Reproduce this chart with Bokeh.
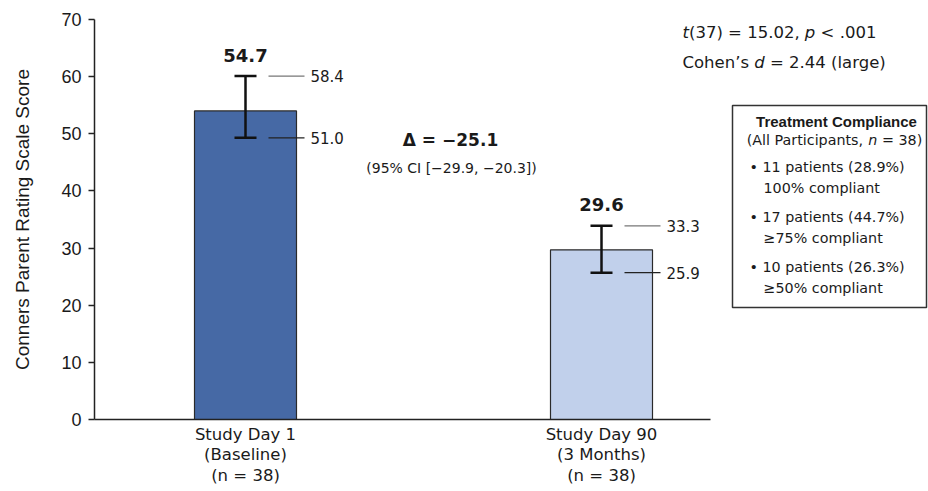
from bokeh.plotting import figure
from bokeh.models import Label, FixedTicker, Range1d, ColumnDataSource
from bokeh.core.properties import value
from bokeh.embed import file_html
from bokeh.resources import INLINE

# ---------------- data ----------------
categories = ["Study Day 1", "Study Day 90"]
subtitles = ["(Baseline)", "(3 Months)"]
group_n = ["38", "38"]
bar_means = [54.0, 29.7]
whisker_low = [49.3, 25.7]
whisker_high = [60.1, 33.9]
mean_labels = ["54.7", "29.6"]
upper_labels = ["58.4", "33.3"]
lower_labels = ["51.0", "25.9"]
bar_colors = ["#4669a5", "#c1d0eb"]
y_ticks = [0, 10, 20, 30, 40, 50, 60, 70]
delta_label = "\u0394 = \u221225.1"
ci_label = "(95% CI [\u221229.9, \u221220.3])"
compliance_patients = ["11", "17", "10"]
compliance_pct = ["28.9%", "44.7%", "26.3%"]
compliance_level = ["100%", "\u226575%", "\u226550%"]

# ---------------- layout helpers (picture px -> data) ----------------
W, H = 928, 491
FRAME_LEFT_PX = 94
FRAME_TOP_PX = 19
FRAME_ZERO_PX = 419
PX_PER_X = 356.0
PX_PER_Y = 400.0 / 70.0
X_START = -(245 - FRAME_LEFT_PX) / PX_PER_X
X_END = X_START + (W - FRAME_LEFT_PX) / PX_PER_X


def dx(px):
    return X_START + (px - FRAME_LEFT_PX) / PX_PER_X


def dy(py):
    return (FRAME_ZERO_PX - py) / PX_PER_Y


def ddx(px):
    return px / PX_PER_X


def ddy(py):
    return py / PX_PER_Y


ANN_FONT = "DejaVu Sans"
INK = "#1a1a1a"

p = figure(width=W, height=H, output_backend="svg", toolbar_location=None,
           x_range=Range1d(X_START, X_END), y_range=Range1d(0, 70),
           min_border_left=FRAME_LEFT_PX, min_border_top=FRAME_TOP_PX,
           min_border_bottom=H - FRAME_ZERO_PX, min_border_right=0)
p.outline_line_color = None
p.xgrid.grid_line_color = None
p.ygrid.grid_line_color = None
p.background_fill_color = "white"
p.border_fill_color = "white"

# y axis
ax = p.yaxis[0]
ax.ticker = FixedTicker(ticks=y_ticks)
ax.axis_label = "Conners Parent Rating Scale Score"
ax.axis_label_text_font = "Liberation Sans"
ax.axis_label_text_font_size = "19px"
ax.axis_label_text_font_style = "normal"
ax.axis_label_text_color = INK
ax.axis_label_standoff = 25
ax.major_label_text_font = "Liberation Sans"
ax.major_label_text_font_size = "18px"
ax.major_label_text_color = INK
ax.major_label_standoff = 7
ax.major_tick_out = 6
ax.major_tick_in = 0
ax.minor_tick_line_color = None
ax.axis_line_width = 1.5
ax.axis_line_color = "#222222"
ax.major_tick_line_width = 1.5
ax.major_tick_line_color = "#222222"

xs = [0, 1]

# x axis with multi-line category labels
xa = p.xaxis[0]
xa.ticker = FixedTicker(ticks=xs)
xa.bounds = (X_START, dx(710))
xa.major_label_overrides = {
    x: cat + "\n" + sub + "\n(n = " + n + ")"
    for x, cat, sub, n in zip(xs, categories, subtitles, group_n)
}
xa.major_label_text_font = ANN_FONT
xa.major_label_text_font_size = "16.5px"
xa.major_label_text_color = INK
xa.major_label_text_line_height = 1.1
xa.major_label_standoff = 5
xa.major_tick_out = 0
xa.major_tick_in = 0
xa.major_tick_line_color = None
xa.minor_tick_line_color = None
xa.axis_line_width = 1.5
xa.axis_line_color = "#222222"

src = ColumnDataSource(dict(x=xs, top=bar_means, low=whisker_low, high=whisker_high,
                            color=bar_colors))

# bars
p.vbar(x="x", top="top", bottom=0, width=ddx(102), source=src,
       fill_color="color", line_color="#2a2a2a", line_width=1.2)

# error bars
p.segment(x0="x", y0="low", x1="x", y1="high", source=src, line_color="#111111", line_width=2.5)
cap = ddx(11)
p.segment(x0=[x - cap for x in xs], y0=whisker_high, x1=[x + cap for x in xs], y1=whisker_high,
          line_color="#111111", line_width=2.5)
p.segment(x0=[x - cap for x in xs], y0=whisker_low, x1=[x + cap for x in xs], y1=whisker_low,
          line_color="#111111", line_width=2.5)

# leader lines + CI labels
l0, l1 = ddx(23), ddx(59)
p.segment(x0=[x + l0 for x in xs], y0=whisker_high, x1=[x + l1 for x in xs], y1=whisker_high,
          line_color="#777777", line_width=1.3)
p.segment(x0=[x + l0 for x in xs], y0=whisker_low, x1=[x + l1 for x in xs], y1=whisker_low,
          line_color="#222222", line_width=1.3)
lab_off = ddx(65)
p.text(x=[x + lab_off for x in xs], y=whisker_high, text=upper_labels,
       text_font=value(ANN_FONT), text_font_size="15px", text_color=INK,
       text_align="left", text_baseline="middle")
p.text(x=[x + lab_off for x in xs], y=whisker_low, text=lower_labels,
       text_font=value(ANN_FONT), text_font_size="15px", text_color=INK,
       text_align="left", text_baseline="middle")

# mean labels
p.text(x=xs, y=[h + ddy(21) for h in whisker_high], text=mean_labels,
       text_font=value(ANN_FONT), text_font_size="18px", text_font_style="bold",
       text_color=INK, text_align="center", text_baseline="middle")


def lab(px, py, text, size, style="normal", align="left", font=ANN_FONT):
    p.add_layout(Label(x=dx(px), y=dy(py), text=text, text_font=font,
                       text_font_size=size, text_font_style=style, text_color=INK,
                       text_align=align, text_baseline="middle"))


# delta annotation
lab(450, 139, delta_label, "17px", "bold", "center")
lab(451, 167, ci_label, "14px", "normal", "center")

# stats text (top right)
S = 0.0165
lab(682, 32, "t", "16.5px", "italic")
lab(682 + 392 * S, 32, "(37) = 15.02,", "16.5px")
px_p = 682 + 392 * S + 7024 * S
lab(px_p, 32, "p", "16.5px", "italic")
lab(px_p + (635 + 318) * S, 32, "< .001", "16.5px")
lab(682, 62, "Cohen\u2019s", "16.5px")
px_d = 682 + (4032 + 318) * S
lab(px_d, 62, "d", "16.5px", "italic")
lab(px_d + (635 + 318) * S, 62, "= 2.44 (large)", "16.5px")

# compliance box
BOX_L, BOX_R = 732, 926
TXT_C = 834
p.quad(left=[dx(BOX_L)], right=[dx(BOX_R)], top=[dy(105)], bottom=[dy(307)],
       fill_color="white", line_color="#333333", line_width=1.5)
lab(TXT_C + 2, 121, "Treatment Compliance", "15px", "bold", "center", "Liberation Sans")
L = 0.0143
sub_start = TXT_C - 12274 * L / 2
lab(sub_start, 139, "(All Participants,", "14.3px")
n_x = sub_start + (8186 + 318) * L
lab(n_x, 139, "n", "14.3px", "italic")
lab(n_x + (634 + 318) * L, 139, "= 38)", "14.3px")
rows_y = [(166, 187), (216, 237), (266, 287)]
for (y1, y2), npat, pct, lvl in zip(rows_y, compliance_patients, compliance_pct, compliance_level):
    lab(BOX_L + 17, y1, "\u2022 " + npat + " patients (" + pct + ")", "14.3px")
    lab(BOX_L + 31, y2, lvl + " compliant", "14.3px")

open("out.html", "w").write(file_html(p, INLINE))
